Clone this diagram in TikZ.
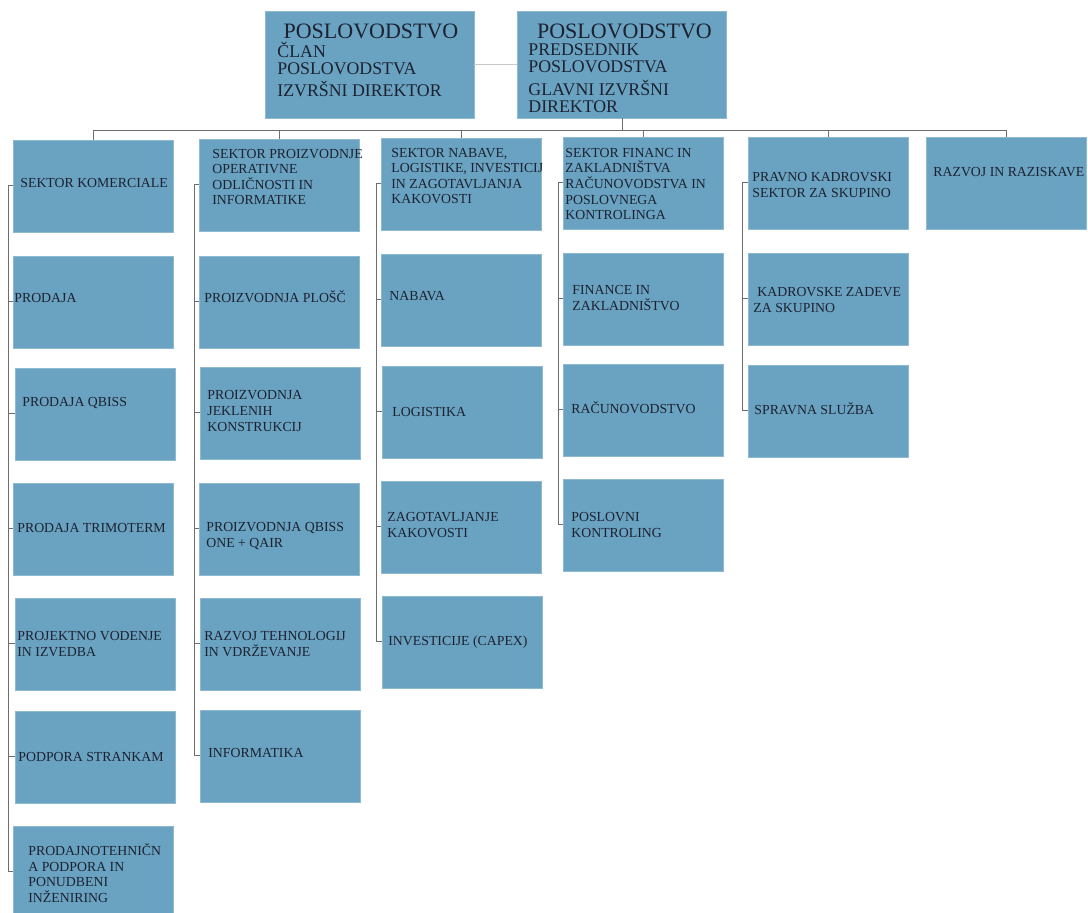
\documentclass[tikz,border=0pt]{standalone}
\usepackage{fontspec}
\setmainfont{Liberation Serif}
\definecolor{boxblue}{HTML}{6AA2C1}
\definecolor{boxtext}{HTML}{1C2230}
\definecolor{linegray}{HTML}{6E6E6E}
\definecolor{lightgray}{HTML}{C8C8C8}

\begin{document}
\begin{tikzpicture}[x=0.5pt,y=-0.5pt,
  box/.style={fill=boxblue,draw=boxblue!75!white,line width=0.4pt,minimum width=80pt,minimum height=46pt,inner sep=0pt},
  topbox/.style={box,minimum width=104.5pt,minimum height=53.5pt},
  txt/.style={anchor=west,inner sep=0pt,align=left,text=boxtext,font=\fontsize{6.9}{7.8}\selectfont},
  ttl/.style={inner sep=0pt,text=boxtext,font=\fontsize{11}{12}\selectfont},
  subtxt/.style={anchor=base west,inner sep=0pt,align=left,text=boxtext,font=\fontsize{8.9}{8.5}\selectfont},
  conn/.style={draw=linegray,line width=0.5pt}]
\useasboundingbox (0,0) rectangle (1088,913);
\coordinate (bus) at (0,131);
\coordinate (c1) at (8,0);
\coordinate (c2) at (194,0);
\coordinate (c3) at (376,0);
\coordinate (c4) at (558,0);
\coordinate (c5) at (742,0);
\node[topbox] (clan) at (369.5,64.5) {};
\node[topbox] (pred) at (622,64.5) {};
\node[box] (k1) at (93.5,186) {};
\node[box] (k2) at (93.5,302) {};
\node[box] (k3) at (95,414) {};
\node[box] (k4) at (93.5,529) {};
\node[box] (k5) at (95,644) {};
\node[box] (k6) at (95,757) {};
\node[box] (k7) at (93.5,872) {};
\node[box] (p1) at (279,185) {};
\node[box] (p2) at (279,302) {};
\node[box] (p3) at (280,413) {};
\node[box] (p4) at (279,529) {};
\node[box] (p5) at (280,644) {};
\node[box] (p6) at (280,756) {};
\node[box] (n1) at (461,184) {};
\node[box] (n2) at (461,300) {};
\node[box] (n3) at (462,412) {};
\node[box] (n4) at (461,527) {};
\node[box] (n5) at (462,642) {};
\node[box] (f1) at (643,183) {};
\node[box] (f2) at (643,299) {};
\node[box] (f3) at (643.5,410) {};
\node[box] (f4) at (643,525) {};
\node[box] (h1) at (828,183) {};
\node[box] (h2) at (828,299) {};
\node[box] (h3) at (828.5,411) {};
\node[box] (r1) at (1006,183) {};
\draw[lightgray,line width=0.5pt] (clan.east) -- (pred.west);
\draw[conn] (pred.south) -- (pred.south |- bus);
\draw[conn] (k1.north) -- (k1.north |- bus) -- (r1.north |- bus) -- (r1.north);
\draw[conn] (p1.north) -- (p1.north |- bus);
\draw[conn] (n1.north) -- (n1.north |- bus);
\draw[conn] (f1.north) -- (f1.north |- bus);
\draw[conn] (h1.north) -- (h1.north |- bus);
\draw[conn] (k1.west) -- (k1.west -| c1) -- (k7.west -| c1) -- (k7.west);
\draw[conn] (k2.west) -- (k2.west -| c1);
\draw[conn] (k3.west) -- (k3.west -| c1);
\draw[conn] (k4.west) -- (k4.west -| c1);
\draw[conn] (k5.west) -- (k5.west -| c1);
\draw[conn] (k6.west) -- (k6.west -| c1);
\draw[conn] (p1.west) -- (p1.west -| c2) -- (p6.west -| c2) -- (p6.west);
\draw[conn] (p2.west) -- (p2.west -| c2);
\draw[conn] (p3.west) -- (p3.west -| c2);
\draw[conn] (p4.west) -- (p4.west -| c2);
\draw[conn] (p5.west) -- (p5.west -| c2);
\draw[conn] (n1.west) -- (n1.west -| c3) -- (n5.west -| c3) -- (n5.west);
\draw[conn] (n2.west) -- (n2.west -| c3);
\draw[conn] (n3.west) -- (n3.west -| c3);
\draw[conn] (n4.west) -- (n4.west -| c3);
\draw[conn] (f1.west) -- (f1.west -| c4) -- (f4.west -| c4) -- (f4.west);
\draw[conn] (f2.west) -- (f2.west -| c4);
\draw[conn] (f3.west) -- (f3.west -| c4);
\draw[conn] (h1.west) -- (h1.west -| c5) -- (h3.west -| c5) -- (h3.west);
\draw[conn] (h2.west) -- (h2.west -| c5);
\node[ttl] (clanT) at (371,31) {POSLOVODSTVO};
\node[subtxt] (clanS) at (277,96.5) {ČLAN\\POSLOVODSTVA\\[2.5pt]IZVRŠNI DIREKTOR};
\node[ttl] (predT) at (624.5,31) {POSLOVODSTVO};
\node[subtxt] (predS) at (528,112.5) {PREDSEDNIK\\POSLOVODSTVA\\[3pt]GLAVNI IZVRŠNI\\DIREKTOR};
\node[txt] (k1t) at (20,183) {SEKTOR KOMERCIALE};
\node[txt] (k2t) at (14,298) {PRODAJA};
\node[txt] (k3t) at (22,403) {PRODAJA QBISS};
\node[txt] (k4t) at (17,528) {PRODAJA TRIMOTERM};
\node[txt] (k5t) at (17,644) {PROJEKTNO VODENJE\\IN IZVEDBA};
\node[txt] (k6t) at (18,757) {PODPORA STRANKAM};
\node[txt] (k7t) at (28,873) {PRODAJNOTEHNIČN\\A PODPORA IN\\PONUDBENI\\INŽENIRING};
\node[txt] (p1t) at (212,177) {SEKTOR PROIZVODNJE\\OPERATIVNE\\ODLIČNOSTI IN\\INFORMATIKE};
\node[txt] (p2t) at (204,297) {PROIZVODNJA PLOŠČ};
\node[txt] (p3t) at (207,411) {PROIZVODNJA\\JEKLENIH\\KONSTRUKCIJ};
\node[txt] (p4t) at (206,536) {PROIZVODNJA QBISS\\ONE + QAIR};
\node[txt] (p5t) at (204,644) {RAZVOJ TEHNOLOGIJ\\IN VDRŽEVANJE};
\node[txt] (p6t) at (208,753) {INFORMATIKA};
\node[txt] (n1t) at (391,176) {SEKTOR NABAVE,\\LOGISTIKE, INVESTICIJ\\IN ZAGOTAVLJANJA\\KAKOVOSTI};
\node[txt] (n2t) at (389,296) {NABAVA};
\node[txt] (n3t) at (392,412) {LOGISTIKA};
\node[txt] (n4t) at (387,525) {ZAGOTAVLJANJE\\KAKOVOSTI};
\node[txt] (n5t) at (388,642) {INVESTICIJE (CAPEX)};
\node[txt] (f1t) at (565,184) {SEKTOR FINANC IN\\ZAKLADNIŠTVA\\RAČUNOVODSTVA IN\\POSLOVNEGA\\KONTROLINGA};
\node[txt] (f2t) at (572,298) {FINANCE IN\\ZAKLADNIŠTVO};
\node[txt] (f3t) at (571,408) {RAČUNOVODSTVO};
\node[txt] (f4t) at (571,525) {POSLOVNI\\KONTROLING};
\node[txt] (h1t) at (752,185) {PRAVNO KADROVSKI\\SEKTOR ZA SKUPINO};
\node[txt] (h2t) at (753,300) {\hspace*{2pt}KADROVSKE ZADEVE\\ZA SKUPINO};
\node[txt] (h3t) at (754,409) {SPRAVNA SLUŽBA};
\node[txt] (r1t) at (933,172) {RAZVOJ IN RAZISKAVE};
\end{tikzpicture}
\end{document}
